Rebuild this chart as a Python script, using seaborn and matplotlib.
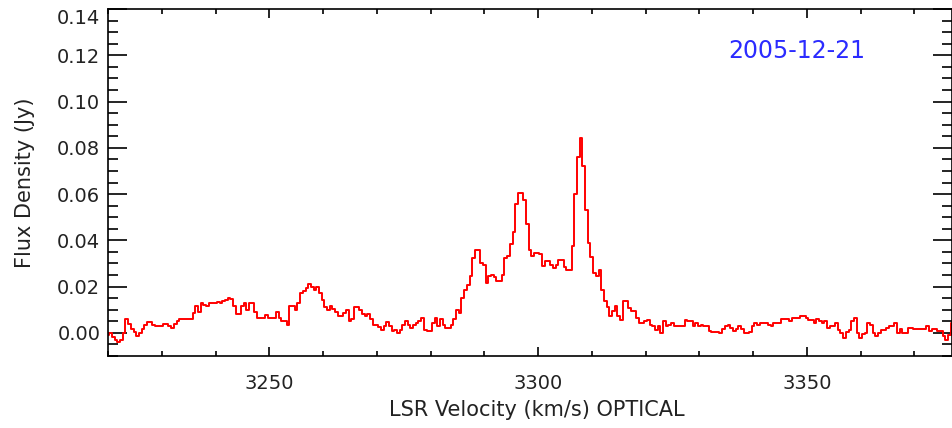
import numpy as np
import pandas as pd
import matplotlib
matplotlib.use("Agg")
import matplotlib.pyplot as plt
from matplotlib.ticker import MultipleLocator, FixedLocator, FuncFormatter
from matplotlib.transforms import ScaledTranslation, blended_transform_factory
import seaborn as sns

# Spectrum channels: 0.5 km/s wide, starting at 3220 km/s
V_START = 3220.0
V_STEP = 0.5

# Flux density per channel (Jy), 20 channels = 10 km/s per row
flux_jy = [
    -0.001, 0.000, -0.002, -0.003, -0.004, -0.003, 0.000, 0.006, 0.004, 0.0015,
    0.0005, -0.0015, 0.000, 0.0015, 0.0035, 0.0045, 0.0045, 0.0032, 0.003, 0.003,
    0.003, 0.004, 0.004, 0.003, 0.002, 0.0037, 0.005, 0.006, 0.006, 0.006,
    0.006, 0.006, 0.0088, 0.0118, 0.009, 0.013, 0.012, 0.0115, 0.013, 0.013,
    0.013, 0.0135, 0.013, 0.0137, 0.014, 0.0151, 0.0145, 0.0115, 0.008, 0.008,
    0.0115, 0.013, 0.010, 0.013, 0.013, 0.009, 0.0066, 0.0066, 0.0066, 0.0076,
    0.0066, 0.0066, 0.0066, 0.009, 0.0066, 0.005, 0.005, 0.0036, 0.0115, 0.0115,
    0.010, 0.013, 0.0173, 0.018, 0.0194, 0.0213, 0.020, 0.0184, 0.020, 0.0173,
    0.0144, 0.011, 0.010, 0.0115, 0.0105, 0.009, 0.0072, 0.0072, 0.0086, 0.010,
    0.005, 0.006, 0.011, 0.011, 0.010, 0.008, 0.0072, 0.0083, 0.0058, 0.0036,
    0.0036, 0.0026, 0.0014, 0.003, 0.0047, 0.003, 0.0007, 0.0014, 0.000, 0.0014,
    0.0036, 0.005, 0.0036, 0.0022, 0.0033, 0.0043, 0.005, 0.0065, 0.0014, 0.0007,
    0.0007, 0.0043, 0.0065, 0.003, 0.0058, 0.0036, 0.0022, 0.0022, 0.0036, 0.0058,
    0.0098, 0.0086, 0.0151, 0.0187, 0.0209, 0.0245, 0.0325, 0.036, 0.036, 0.0304,
    0.0295, 0.0217, 0.0245, 0.025, 0.024, 0.0225, 0.0225, 0.025, 0.0325, 0.0333,
    0.0385, 0.0436, 0.0555, 0.0606, 0.0606, 0.0576, 0.047, 0.036, 0.0333, 0.0347,
    0.0347, 0.034, 0.0289, 0.031, 0.031, 0.0295, 0.028, 0.0295, 0.0317, 0.0317,
    0.0285, 0.0273, 0.0273, 0.0374, 0.060, 0.076, 0.0842, 0.072, 0.053, 0.039,
    0.033, 0.026, 0.0245, 0.027, 0.0185, 0.0137, 0.011, 0.0072, 0.0093, 0.0115,
    0.0072, 0.0057, 0.0137, 0.0137, 0.0108, 0.0093, 0.0093, 0.0065, 0.0043, 0.0043,
    0.005, 0.0057, 0.0036, 0.0029, 0.0014, 0.0029, 0.000, 0.005, 0.0029, 0.0036,
    0.0043, 0.0029, 0.0029, 0.0029, 0.0029, 0.0054, 0.005, 0.005, 0.0029, 0.0043,
    0.0029, 0.0036, 0.0029, 0.0029, 0.0007, 0.0004, 0.0004, 0.0004, 0.000, 0.0015,
    0.0029, 0.0036, 0.002, 0.0007, 0.0015, 0.003, 0.0015, 0.000, 0.000, 0.0005,
    0.0029, 0.0043, 0.0036, 0.0043, 0.0043, 0.0043, 0.0036, 0.0029, 0.0043, 0.0043,
    0.0043, 0.0058, 0.0058, 0.0058, 0.005, 0.0065, 0.0065, 0.0065, 0.0075, 0.0075,
    0.0065, 0.0054, 0.0054, 0.0043, 0.006, 0.005, 0.0043, 0.005, 0.002, 0.0029,
    0.0029, 0.0043, 0.0014, 0.000, -0.0022, 0.0005, 0.0014, 0.005, 0.0065, 0.000,
    -0.0022, -0.0007, 0.000, 0.0043, 0.0036, 0.000, -0.0014, 0.000, 0.0014, 0.0014,
    0.0022, 0.0029, 0.0029, 0.0043, 0.000, 0.0015, 0.000, 0.000, 0.0022, 0.0022,
    0.0017, 0.0017, 0.0017, 0.0017, 0.0017, 0.0029, 0.0007, 0.0017, 0.0017, 0.0007,
    0.0007, -0.0014, -0.0029, -0.001, 0.0043,
]

x_ticks = [3250, 3300, 3350]
y_ticks = [0.00, 0.02, 0.04, 0.06, 0.08, 0.10, 0.12, 0.14]
x_range = (3220.0, 3377.0)
y_range = (-0.01, 0.14)
obs_date = "2005-12-21"

velocity = V_START + V_STEP * np.arange(len(flux_jy))
spec = pd.DataFrame({"velocity": velocity, "flux": flux_jy})

sns.set_style("ticks")
plt.rcParams["font.family"] = ["DejaVu Sans"]

TEXT = "#222222"
TICK_FS = 14
LABEL_FS = 15

fig = plt.figure(figsize=(9.53, 4.28), dpi=100)
ax = fig.add_axes([108 / 953, 72 / 428, 844 / 953, 347 / 428])
ax.set_facecolor("white")
fig.patch.set_facecolor("white")

sns.lineplot(data=spec, x="velocity", y="flux", ax=ax, color="#ff0000",
             linewidth=1.4, drawstyle="steps-mid", estimator=None)

ax.set_xlim(*x_range)
ax.set_ylim(*y_range)

top_tick = y_ticks[-1]

ax.xaxis.set_major_locator(FixedLocator(x_ticks))
ax.xaxis.set_minor_locator(MultipleLocator(10))
ax.yaxis.set_major_locator(FixedLocator(y_ticks))
ax.yaxis.set_minor_locator(MultipleLocator(0.005))
# the topmost value is written separately, dropped just below the frame edge
ax.yaxis.set_major_formatter(
    FuncFormatter(lambda v, p: "" if abs(v - top_tick) < 1e-9 else f"{v:.2f}"))

for side in ["left", "right", "top", "bottom"]:
    ax.spines[side].set_visible(True)
    ax.spines[side].set_color("black")
    ax.spines[side].set_linewidth(1.2)

ax.tick_params(axis="both", which="both", direction="in", top=True, right=True,
               colors="black", width=1.2, labelsize=TICK_FS, labelcolor=TEXT)
ax.tick_params(axis="y", which="major", length=13.5, pad=5.5)
ax.tick_params(axis="y", which="minor", length=7)
ax.tick_params(axis="x", which="major", length=6.5, pad=13.0)
ax.tick_params(axis="x", which="minor", length=3.5)

left_data = blended_transform_factory(ax.transAxes, ax.transData)
ax.text(0, top_tick, f"{top_tick:.2f}", ha="right", va="center",
        fontsize=TICK_FS, color=TEXT,
        transform=left_data + ScaledTranslation(-8 / 100, -10 / 100, fig.dpi_scale_trans))

ax.set_xlabel("LSR Velocity (km/s) OPTICAL", fontsize=LABEL_FS, color=TEXT)
ax.set_ylabel("Flux Density (Jy)", fontsize=LABEL_FS, color=TEXT)
ax.xaxis.label.set_va("center")
ax.xaxis.set_label_coords(0.508, -0.156)
ax.yaxis.label.set_va("center")
ax.yaxis.set_label_coords(-0.098, 0.5)

ax.text(0.816, 0.879, obs_date, transform=ax.transAxes, ha="center", va="center",
        fontsize=17, color="#2b2bff")

fig.savefig("out.png", dpi=100, facecolor="white")
